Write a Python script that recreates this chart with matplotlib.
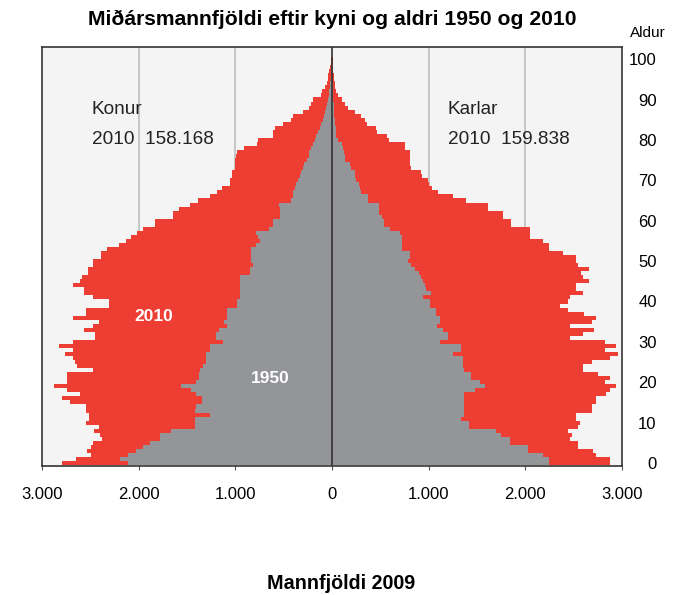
import matplotlib
matplotlib.use('Agg')
import matplotlib.pyplot as plt
from matplotlib.ticker import FuncFormatter
import numpy as np

plt.rcParams['font.family'] = ['Liberation Sans', 'DejaVu Sans']

ages = np.arange(0, 101)

# konur (vinstri) og karlar (hægri), fjöldi eftir aldri 0-100
konur_2010 = [2790, 2650, 2490, 2530, 2490, 2470, 2380, 2400, 2460, 2405,
              2540, 2510, 2510, 2545, 2545, 2710, 2790, 2605, 2745, 2875,
              2745, 2740, 2740, 2470, 2640, 2655, 2680, 2760, 2680, 2820,
              2680, 2450, 2450, 2570, 2470, 2405, 2680, 2540, 2540, 2305,
              2305, 2470, 2570, 2570, 2680, 2605, 2590, 2520, 2520, 2470,
              2470, 2385, 2385, 2330, 2200, 2130, 2080, 2020, 1950, 1830,
              1830, 1640, 1640, 1580, 1470, 1390, 1260, 1190, 1140, 1055,
              1055, 1030, 1030, 1005, 1005, 1000, 990, 985, 915, 780,
              760, 605, 605, 590, 505, 425, 400, 295, 240, 215,
              195, 115, 105, 70, 55, 38, 38, 30, 20, 15,
              10]
konur_1950 = [2110, 2196, 2110, 2024, 1950, 1886, 1775, 1775, 1662, 1420,
              1420, 1420, 1265, 1417, 1403, 1341, 1341, 1403, 1455, 1558,
              1403, 1376, 1376, 1361, 1334, 1306, 1306, 1306, 1265, 1265,
              1128, 1196, 1196, 1170, 1086, 1120, 1086, 1086, 1086, 983,
              983, 955, 955, 948, 948, 948, 948, 851, 851, 817,
              834, 834, 834, 834, 790, 748, 770, 782, 650, 610,
              610, 541, 541, 541, 548, 420, 403, 403, 380, 368,
              350, 334, 320, 300, 290, 260, 238, 238, 220, 200,
              180, 165, 145, 120, 110, 90, 80, 70, 60, 50,
              40, 35, 30, 22, 20, 15, 12, 8, 5, 3,
              2]
karlar_2010 = [2875, 2875, 2735, 2700, 2545, 2545, 2460, 2480, 2440, 2545,
               2570, 2520, 2520, 2685, 2685, 2735, 2735, 2830, 2875, 2935,
               2820, 2875, 2750, 2600, 2600, 2685, 2875, 2960, 2820, 2935,
               2820, 2460, 2600, 2715, 2460, 2685, 2735, 2605, 2440, 2355,
               2440, 2460, 2600, 2520, 2520, 2660, 2600, 2580, 2660, 2545,
               2520, 2520, 2385, 2250, 2250, 2180, 2045, 2045, 2045, 1855,
               1855, 1770, 1770, 1614, 1614, 1390, 1250, 1100, 1030, 1005,
               995, 930, 925, 815, 810, 805, 805, 805, 760, 755,
               595, 565, 470, 455, 360, 345, 300, 240, 170, 130,
               100, 62, 45, 30, 28, 20, 20, 15, 15, 10,
               10]
karlar_1950 = [2245, 2245, 2185, 2030, 2030, 1840, 1840, 1750, 1700, 1420,
               1417, 1340, 1362, 1362, 1362, 1362, 1362, 1362, 1476, 1580,
               1530, 1440, 1440, 1366, 1355, 1355, 1355, 1250, 1340, 1340,
               1115, 1200, 1200, 1150, 1087, 1115, 1115, 1080, 1080, 1010,
               1010, 940, 1028, 970, 960, 940, 925, 900, 855, 820,
               790, 811, 811, 728, 728, 728, 728, 700, 600, 535,
               535, 520, 487, 487, 487, 373, 373, 300, 287, 280,
               250, 235, 235, 200, 183, 140, 130, 120, 110, 100,
               60, 45, 45, 40, 28, 28, 25, 22, 20, 18,
               15, 12, 10, 8, 6, 5, 4, 3, 2, 1,
               1]

xticks = [-3000, -2000, -1000, 0, 1000, 2000, 3000]
yticks = list(range(0, 101, 10))

red = '#ee3e33'
grey = '#939598'

fig = plt.figure(figsize=(6.88, 5.95), dpi=100)
ax = fig.add_axes([0.061, 0.217, 0.843, 0.704])
ax.set_facecolor('#f4f4f4')

for g in [-2000, -1000, 1000, 2000]:
    ax.axvline(g, color='#bdbdbd', lw=1.2, zorder=0)

ax.barh(ages, -np.array(konur_2010), height=1.0, color=red, lw=0, zorder=2)
ax.barh(ages, karlar_2010, height=1.0, color=red, lw=0, zorder=2)
ax.barh(ages, -np.array(konur_1950), height=1.0, color=grey, lw=0, zorder=3)
ax.barh(ages, karlar_1950, height=1.0, color=grey, lw=0, zorder=3)
ax.axvline(0, color='#333333', lw=1.2, zorder=4)

ax.set_xlim(-3000, 3000)
ax.set_ylim(-0.7, 103)
ax.set_xticks(xticks)
ax.xaxis.set_major_formatter(FuncFormatter(lambda v, p: f"{abs(int(v)):,}".replace(',', '.')))
ax.tick_params(axis='x', direction='out', length=3, pad=12, labelsize=12, color='#555555')

ax.yaxis.tick_right()
ax.set_yticks(yticks)
ax.tick_params(axis='y', length=0, pad=25, labelsize=12)
for lab in ax.get_yticklabels():
    lab.set_horizontalalignment('right')

for s in ax.spines.values():
    s.set_color('#333333')
    s.set_linewidth(1.2)

txt = dict(transform=ax.transAxes, fontsize=13.7, va='center', ha='left', color='#222222')
ax.text(0.086, 0.85, 'Konur', **txt)
ax.text(0.086, 0.778, '2010  158.168', **txt)
ax.text(0.70, 0.85, 'Karlar', **txt)
ax.text(0.70, 0.778, '2010  159.838', **txt)
ax.text(0.193, 0.356, '2010', transform=ax.transAxes, fontsize=12.5, fontweight='bold', color='white',
        ha='center', va='center', zorder=5)
ax.text(0.393, 0.208, '1950', transform=ax.transAxes, fontsize=12.5, fontweight='bold', color='white',
        ha='center', va='center', zorder=5)

fig.text(0.483, 0.967, 'Miðársmannfjöldi eftir kyni og aldri 1950 og 2010', ha='center', va='center',
         fontsize=15.2, fontweight='bold')
fig.text(0.942, 0.945, 'Aldur', ha='center', va='center', fontsize=11)
fig.text(0.4956, 0.02, 'Mannfjöldi 2009', ha='center', va='center', fontsize=14.2, fontweight='bold')

fig.savefig('out.png', dpi=100)
